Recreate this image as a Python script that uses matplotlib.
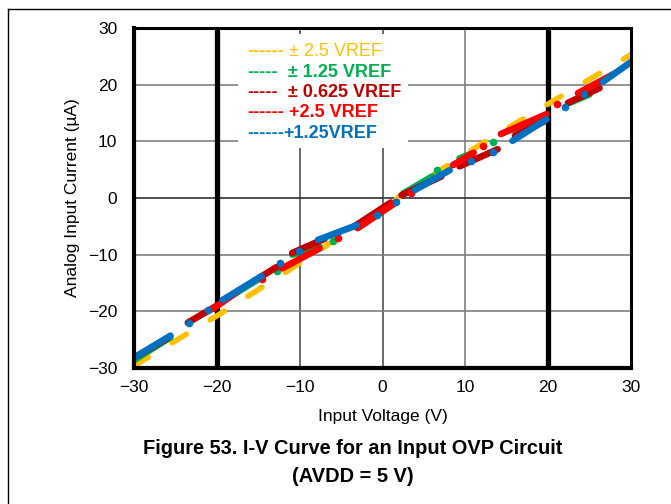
import numpy as np
import matplotlib.pyplot as plt
from matplotlib.lines import Line2D
from matplotlib.patches import Rectangle

plt.rcParams['font.family'] = ['Liberation Sans', 'DejaVu Sans']

nan = np.nan

# yellow: +/-2.5 VREF (dashed trace)
yel_x = [-30, -20, -12, -4.5, 0, 2, 6, 12, 20, 30]
yel_y = [-29.6, -20.8, -13.4, -6.2, -2.3, 0.2, 4.0, 9.6, 16.6, 25.3]

# green: +/-1.25 VREF
grn_x = [-30, -25.6, nan, -19.3, -14.6, nan, -10.9, -7.6, nan, -3.0, 1.5, nan, 2.5, 6.0, nan, 9.3, 10.9, nan, 15.7, 17.8, nan, 22.6, 25.0]
grn_y = [-28.6, -24.6, nan, -18.2, -14.0, nan, -10.0, -8.6, nan, -5.3, -0.8, nan, 0.8, 3.8, nan, 7.0, 7.9, nan, 12.0, 13.2, nan, 16.8, 18.3]
grn_dx = [-12.7, -6.0, 6.6, 13.4]
grn_dy = [-12.9, -7.6, 4.9, 9.9]

# dark red: +/-0.625 VREF
drd_x = [-29.5, -26.0, nan, -23.5, -20.0, nan, -14.9, -12.8, nan, -10.9, -7.0, nan, -3.4, 1.0, nan, 2.3, 7.1, nan, 9.3, 13.9, nan, 16.0, 19.5, nan, 22.4, 26.2]
drd_y = [-27.8, -24.8, nan, -22.0, -19.0, nan, -14.1, -12.2, nan, -9.7, -7.2, nan, -5.0, -0.8, nan, 0.5, 3.8, nan, 5.6, 8.6, nan, 11.0, 13.5, nan, 16.8, 19.4]

# red: +2.5 VREF
red_x = [-20.5, -17.5, nan, -12.1, -7.6, nan, -3.0, 1.7, nan, 8.5, 11.0, nan, 14.3, 19.8, nan, 23.6, 27.8]
red_y = [-19.6, -16.5, nan, -12.4, -8.9, nan, -5.3, -0.7, nan, 5.8, 8.0, nan, 11.3, 14.8, nan, 18.5, 21.8]
red_dx = [-14.5, -5.4, 3.4, 12.1, 21.1]
red_dy = [-14.3, -7.1, 0.9, 9.2, 16.6]

# blue: +1.25 VREF
blu_x = [-29.8, -25.6, nan, -19.3, -14.6, nan, -7.8, -3.1, nan, 3.9, 8.1, nan, 15.7, 19.8, nan, 26.6, 30.0]
blu_y = [-28.0, -24.3, nan, -18.0, -13.8, nan, -7.4, -4.8, nan, 1.4, 4.9, nan, 10.1, 13.9, nan, 20.5, 24.0]
blu_dx = [-23.4, -21.1, -12.4, -10.1, -0.7, 1.6, 10.7, 13.3, 22.0, 24.3]
blu_dy = [-22.0, -19.8, -11.4, -9.3, -3.0, -0.7, 6.5, 8.1, 16.0, 18.3]

ticks = [-30, -20, -10, 0, 10, 20, 30]
legend_dash = ["------", "-----", "-----", "------", "------"]
legend_text = [" \u00b1 2.5 VREF", "  \u00b1 1.25 VREF", "  \u00b1 0.625 VREF", " +2.5 VREF", "+1.25VREF"]
legend_cols = ['#FFC000', '#00B050', '#C00000', '#FF0000', '#0070C0']
legend_bold = [False, True, True, True, True]

W, H = 671, 504
fig = plt.figure(figsize=(W / 100, H / 100), dpi=100)
ax = fig.add_axes([134 / W, 1 - 368 / H, 497 / W, 340 / H])
ax.set_xlim(-30, 30)
ax.set_ylim(-30, 30)

# grid
for v in [-10, 0, 10]:
    ax.axvline(v, color='#505050' if v < 10 else '#808080', lw=1.2, zorder=1)
for v in [-20, -10, 0, 10, 20]:
    ax.axhline(v, color='#303030' if v == 0 else '#808080', lw=1.2, zorder=1)

# white legend background hides the grid
ax.add_patch(Rectangle(((238 - 134) / 497, (368 - 148) / 340), (408 - 238) / 497, (148 - 34) / 340,
                       transform=ax.transAxes, facecolor='white', edgecolor='none', zorder=2))

for v in [-20, 20]:
    ax.axvline(v, color='black', lw=3.8, zorder=2.5)

lw = 4.8
ms = 5.5
ax.plot(yel_x, yel_y, color='#FFC000', lw=4.0, linestyle=(0, (3, 5.0)), dash_capstyle='round', zorder=3)
ax.plot(grn_x, grn_y, color='#00B050', lw=lw, solid_capstyle='round', zorder=3.1)
ax.plot(grn_dx, grn_dy, 'o', color='#00B050', ms=ms, mec='none', zorder=3.1)
ax.plot(drd_x, drd_y, color='#C00000', lw=lw, solid_capstyle='round', zorder=3.2)
ax.plot(red_x, red_y, color='#FF0000', lw=lw, solid_capstyle='round', zorder=3.3)
ax.plot(red_dx, red_dy, 'o', color='#FF0000', ms=ms, mec='none', zorder=3.3)
ax.plot(blu_x, blu_y, color='#0070C0', lw=lw, solid_capstyle='round', zorder=3.4)
ax.plot(blu_dx, blu_dy, 'o', color='#0070C0', ms=ms, mec='none', zorder=3.4)

# hand-made legend: dashes then coloured label right after them
for i in range(5):
    t = fig.text(247 / W, 1 - (52 + 20.3 * i) / H, legend_dash[i], color=legend_cols[i], fontsize=13,
                 fontweight='bold', va='center', ha='left', zorder=6)
    ax.annotate(legend_text[i], xy=(1, 0.5), xycoords=t, va='center', ha='left', color=legend_cols[i],
                fontsize=13, fontweight='bold' if legend_bold[i] else 'normal', annotation_clip=False)

ax.set_xticks(ticks)
ax.set_yticks(ticks)
ax.tick_params(length=0, labelsize=12.5, pad=9)
ax.tick_params(axis='y', pad=12)
for sp in ax.spines.values():
    sp.set_linewidth(2.2)
    sp.set_zorder(5)
ax.spines['left'].set_linewidth(3)
ax.spines['bottom'].set_linewidth(3)

fig.text(383 / W, 1 - 416 / H, 'Input Voltage (V)', fontsize=12.5, ha='center', va='center')
fig.text(72 / W, 1 - 198 / H, 'Analog Input Current (\u00b5A)', fontsize=12.5, rotation=90,
         ha='center', va='center')
fig.text(353 / W, 1 - 449 / H, 'Figure 53. I-V Curve for an Input OVP Circuit', fontsize=14.4,
         fontweight='bold', ha='center', va='center')
fig.text(353 / W, 1 - 476 / H, '(AVDD = 5 V)', fontsize=14.4, fontweight='bold', ha='center', va='center')

# page border
fig.add_artist(Line2D([8 / W, 8 / W], [0, 1 - 9 / H], color='black', lw=1))
fig.add_artist(Line2D([8 / W, 1], [1 - 9 / H, 1 - 9 / H], color='black', lw=1))

fig.savefig('out.png', dpi=100)
